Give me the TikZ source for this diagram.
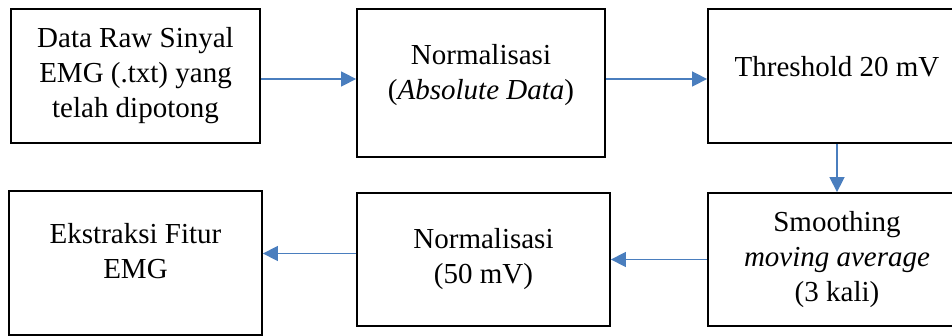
\documentclass[tikz,border=0pt]{standalone}
\usepackage{fontspec}
\setmainfont{Liberation Serif}
\usetikzlibrary{arrows.meta}
\definecolor{arrowblue}{RGB}{74,126,190}

\begin{document}
\begin{tikzpicture}[
    x=1pt, y=-1pt,
    box/.style={rectangle, draw, line width=1.8pt, align=center, font=\fontsize{29}{35}\selectfont},
    arrow/.style={-{Triangle[length=15pt, width=15pt]}, color=arrowblue, line width=1.5pt}
]
\clip (0,0) rectangle (952,336);

% Baris atas
\node[box, minimum width=249pt, minimum height=134pt] (raw-data) at (135.5,76) {Data Raw Sinyal\\EMG (.txt) yang\\telah dipotong};
\node[box, minimum width=248pt, minimum height=148pt, text depth=22pt] (norm-abs) at (481,83) {Normalisasi\\(\textit{Absolute Data})};
\node[box, minimum width=258pt, minimum height=134pt, text depth=19pt] (thresh) at (837,76) {Threshold 20 mV};

% Baris bawah
\node[box, minimum width=258pt, minimum height=133pt] (smooth) at (837,259.5) {Smoothing\\\textit{moving average}\\(3 kali)};
\node[box, minimum width=253pt, minimum height=133pt] (norm-50) at (483.5,259.5) {Normalisasi\\(50 mV)};
\node[box, minimum width=253pt, minimum height=144pt, text depth=24pt] (fitur) at (135.5,263) {Ekstraksi Fitur\\EMG};

% Panah
\draw[arrow] ([yshift=-3pt]raw-data.east) -- ([yshift=-3pt]raw-data.east -| norm-abs.west);
\draw[arrow] ([yshift=-3pt]thresh.west -| norm-abs.east) -- ([yshift=-3pt]thresh.west);
\draw[arrow] (thresh.south) -- (smooth.north);
\draw[arrow] (smooth.west) -- (smooth.west -| norm-50.east);
\draw[arrow] ([yshift=6pt]norm-50.west) -- ([yshift=6pt]norm-50.west -| fitur.east);

\end{tikzpicture}
\end{document}
